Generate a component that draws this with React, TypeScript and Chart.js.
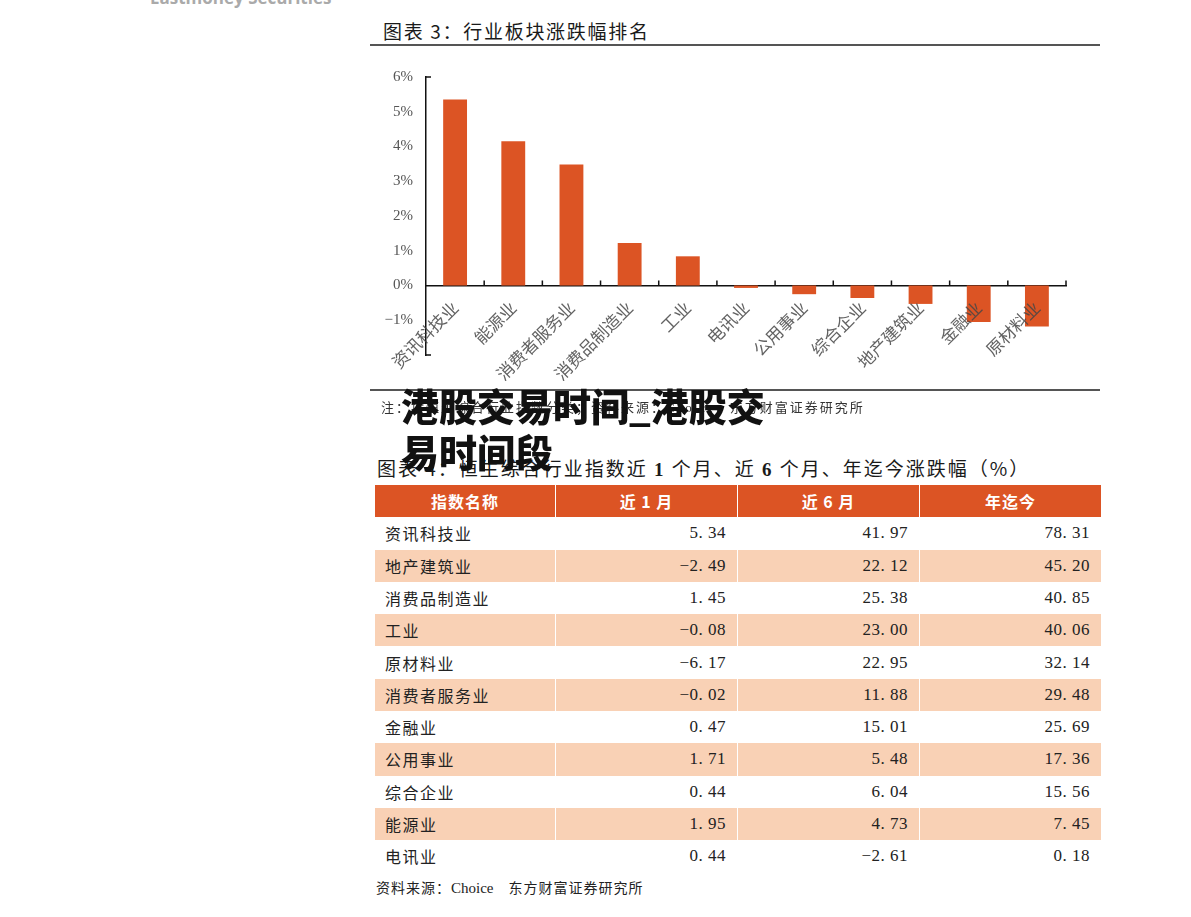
import React, { useEffect, useRef } from "react";
import { Chart, registerables } from "chart.js";

Chart.register(...registerables);

// ---- Chart data (图表 3：行业板块涨跌幅排名) ----
const categories = ["资讯科技业", "能源业", "消费者服务业", "消费品制造业", "工业", "电讯业", "公用事业", "综合企业", "地产建筑业", "金融业", "原材料业"];
const changes = [5.35, 4.15, 3.48, 1.22, 0.84, -0.07, -0.25, -0.36, -0.53, -1.05, -1.18];
const yMin = -2;
const yMax = 6;

// ---- Table data (图表 4) ----
const tableHeaders = ["指数名称", "近 1 月", "近 6 月", "年迄今"];
const tableNames = ["资讯科技业", "地产建筑业", "消费品制造业", "工业", "原材料业", "消费者服务业", "金融业", "公用事业", "综合企业", "能源业", "电讯业"];
const oneMonth = [5.34, -2.49, 1.45, -0.08, -6.17, -0.02, 0.47, 1.71, 0.44, 1.95, 0.44];
const sixMonth = [41.97, 22.12, 25.38, 23.0, 22.95, 11.88, 15.01, 5.48, 6.04, 4.73, -2.61];
const ytd = [78.31, 45.2, 40.85, 40.06, 32.14, 29.48, 25.69, 17.36, 15.56, 7.45, 0.18];

const ORANGE = "#DC5424";
const PEACH = "#F9D1B5";
const CJK = '"Noto Sans CJK SC", "Noto Sans", sans-serif';
const SERIF = '"Liberation Serif", "DejaVu Serif", serif';

const fmt = (v: number) => (v < 0 ? "\u2212" : "") + Math.abs(v).toFixed(2).replace(".", ". ");

const tickMarks = {
  id: "tickMarks",
  afterDraw(chart: any) {
    const { ctx, scales } = chart;
    const x = scales.x;
    const y = scales.y;
    const y0 = y.getPixelForValue(0);
    const n = categories.length;
    ctx.save();
    ctx.strokeStyle = "#111";
    ctx.lineWidth = 1.5;
    ctx.beginPath();
    for (let i = 1; i <= n; i++) {
      const px = x.left + (i * x.width) / n;
      ctx.moveTo(px, y0);
      ctx.lineTo(px, y0 - 5);
    }
    ctx.moveTo(y.left + y.width, y.top);
    ctx.lineTo(y.left + y.width + 5, y.top);
    ctx.moveTo(y.left + y.width, y.bottom);
    ctx.lineTo(y.left + y.width + 5, y.bottom);
    ctx.stroke();
    ctx.restore();
  },
};

function BarChart() {
  const ref = useRef<HTMLCanvasElement | null>(null);
  useEffect(() => {
    if (!ref.current) return;
    const chart = new Chart(ref.current, {
      type: "bar",
      data: {
        labels: categories,
        datasets: [
          {
            data: changes,
            backgroundColor: ORANGE,
            borderWidth: 0,
            barPercentage: 0.41,
            categoryPercentage: 1,
          },
        ],
      },
      options: {
        animation: false,
        responsive: false,
        layout: { padding: { top: 16, bottom: 35, left: 0, right: 34 } },
        plugins: { legend: { display: false }, tooltip: { enabled: false } },
        scales: {
          x: {
            type: "category",
            position: { y: 0 } as any,
            grid: { display: false, drawTicks: false },
            border: { display: true, color: "#111", width: 1.5 },
            ticks: {
              z: 1,
              autoSkip: false,
              maxRotation: 45,
              minRotation: 45,
              padding: 12,
              color: "rgba(70,70,70,0.85)",
              font: { family: CJK, size: 17 },
            },
          },
          y: {
            min: yMin,
            max: yMax,
            afterFit: (s: any) => {
              s.width = 56;
            },
            grid: { display: false, drawTicks: false },
            border: { display: true, color: "#111", width: 1.5 },
            ticks: {
              stepSize: 1,
              padding: 13,
              color: "#555",
              font: { family: SERIF, size: 15 },
              callback: (v: any) => (v === yMin ? "" : (v < 0 ? "\u2212" + Math.abs(v) : v) + "%"),
            },
          },
        },
      },
      plugins: [tickMarks],
    });
    return () => chart.destroy();
  }, []);
  return <canvas ref={ref} width={730} height={335} style={{ display: "block" }} />;
}

const abs = (l: number, t: number, extra: React.CSSProperties = {}): React.CSSProperties => ({
  position: "absolute",
  left: l,
  top: t,
  ...extra,
});

export default function App() {
  const colLefts = [375, 556, 738, 920];
  const colWidths = [180, 181, 181, 181];
  const rowTop = 485;
  const rowH = 32.3;
  const rows = tableNames.map((name, i) => [name, fmt(oneMonth[i]), fmt(sixMonth[i]), fmt(ytd[i])]);
  return (
    <div
      style={{
        position: "absolute",
        left: 0,
        top: 0,
        width: 1191,
        height: 917,
        background: "#fff",
        overflow: "hidden",
        fontFamily: CJK,
        color: "#1a1a1a",
      }}
    >
      <div style={abs(150, -14, { fontFamily: '"Open Sans", sans-serif', fontWeight: 700, fontSize: 17, color: "#aaa", whiteSpace: "nowrap" })}>
        Eastmoney Securities
      </div>
      <div style={abs(383, 19, { fontSize: 19, lineHeight: "24px", whiteSpace: "nowrap", letterSpacing: 1.7 })}>图表 3：行业板块涨跌幅排名</div>
      <div style={abs(370, 44, { width: 730, height: 1.5, background: "#555" })} />
      <div style={abs(370, 55)}>
        <BarChart />
      </div>
      <div style={abs(370, 389, { width: 730, height: 1.5, background: "#555" })} />
      <div style={abs(381, 398, { fontSize: 13, lineHeight: "18px", whiteSpace: "nowrap", letterSpacing: 2, color: "#333" })}>
        注：按恒生综合行业指数分类；资料来源：<span style={{ fontFamily: SERIF }}>Choice</span>，东方财富证券研究所
      </div>
      <div style={abs(377, 456, { fontSize: 19, lineHeight: "24px", whiteSpace: "nowrap", letterSpacing: 2 })}>
        图表 4：恒生综合行业指数近 <b style={{ fontFamily: SERIF }}>1</b> 个月、近 <b style={{ fontFamily: SERIF }}>6</b> 个月、年迄今涨跌幅（%）
      </div>
      <div
        style={abs(401, 382, {
          width: 375,
          fontSize: 38,
          lineHeight: "46px",
          fontWeight: 900,
          color: "#111",
          wordBreak: "break-all",
        })}
      >
        港股交易时间_港股交易时间段
      </div>
      {tableHeaders.map((h, c) => (
        <div
          key={"h" + c}
          style={abs(colLefts[c], rowTop, {
            width: colWidths[c],
            height: rowH,
            background: ORANGE,
            color: "#fff",
            fontWeight: 700,
            fontSize: 16,
            lineHeight: rowH + "px",
            textAlign: "center",
            letterSpacing: 1,
          })}
        >
          {h}
        </div>
      ))}
      {rows.map((r, i) =>
        r.map((cell, c) => (
          <div
            key={i + "-" + c}
            style={abs(colLefts[c], rowTop + (i + 1) * rowH, {
              width: colWidths[c],
              height: rowH,
              background: i % 2 === 1 ? PEACH : "#fff",
              boxSizing: "border-box",
              padding: c === 0 ? "0 0 0 10px" : "0 11px 0 0",
              textAlign: c === 0 ? "left" : "right",
              fontSize: c === 0 ? 16 : 17,
              fontFamily: c === 0 ? CJK : SERIF,
              lineHeight: rowH + "px",
              letterSpacing: c === 0 ? 1.5 : 0.5,
              color: "#222",
              whiteSpace: "pre",
            })}
          >
            {cell}
          </div>
        ))
      )}
      <div style={abs(376, 877, { fontSize: 14, lineHeight: "20px", whiteSpace: "nowrap", letterSpacing: 1, color: "#222" })}>
        资料来源：<span style={{ fontFamily: SERIF, fontSize: 15, letterSpacing: 0 }}>Choice</span>
        {"\u2003"}东方财富证券研究所
      </div>
    </div>
  );
}
